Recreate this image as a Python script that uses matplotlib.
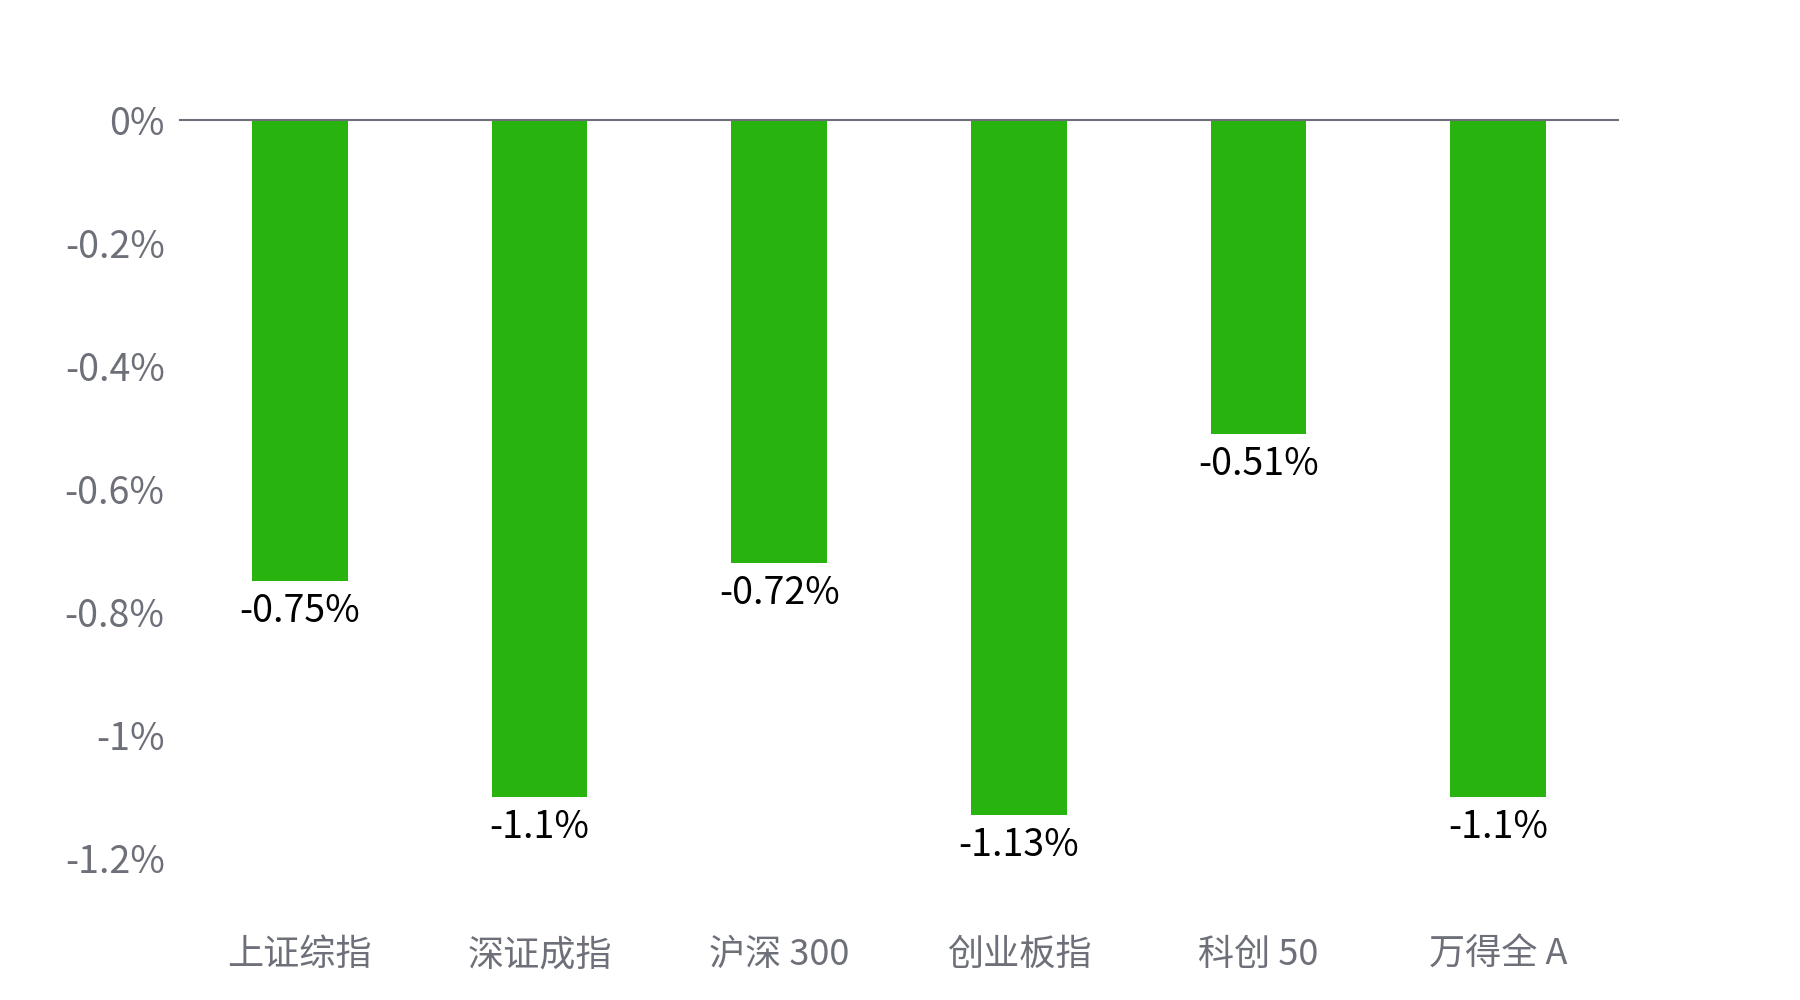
import matplotlib.pyplot as plt

plt.rcParams['font.family'] = ['Noto Sans CJK SC', 'DejaVu Sans']

# Index names and daily change (%)
names = ['上证综指', '深证成指', '沪深 300', '创业板指', '科创 50', '万得全 A']
changes = [-0.75, -1.1, -0.72, -1.13, -0.51, -1.1]
labels = ['-0.75%', '-1.1%', '-0.72%', '-1.13%', '-0.51%', '-1.1%']
yticks = [0, -0.2, -0.4, -0.6, -0.8, -1.0, -1.2]
yticklabels = ['0%', '-0.2%', '-0.4%', '-0.6%', '-0.8%', '-1%', '-1.2%']

fig = plt.figure(figsize=(18, 10), dpi=100)
ax = fig.add_axes([180/1800, 0.142, 1438/1800, 0.738])

x = range(len(names))
bars = ax.bar(x, changes, width=0.4, color='#28b30e')

for b, lab in zip(bars, labels):
    ax.annotate(lab, (b.get_x() + b.get_width()/2, b.get_height()),
                xytext=(0, -8), textcoords='offset points',
                ha='center', va='top', fontsize=27, color='black')

ax.set_xlim(-0.5, len(names) - 0.5)
ax.set_ylim(-1.2, 0)
ax.set_yticks(yticks)
ax.set_yticklabels(yticklabels)
ax.set_xticks(list(x))
ax.set_xticklabels(names)

ax.tick_params(axis='y', length=0, pad=11, labelsize=27, labelcolor='#6e7079')
ax.tick_params(axis='x', length=0, pad=57, labelsize=26, labelcolor='#6e7079')

for s in ['left', 'right', 'bottom']:
    ax.spines[s].set_visible(False)
ax.spines['top'].set_color('#6e7079')
ax.spines['top'].set_linewidth(1.5)

fig.savefig('out.png', dpi=100, facecolor='white')
